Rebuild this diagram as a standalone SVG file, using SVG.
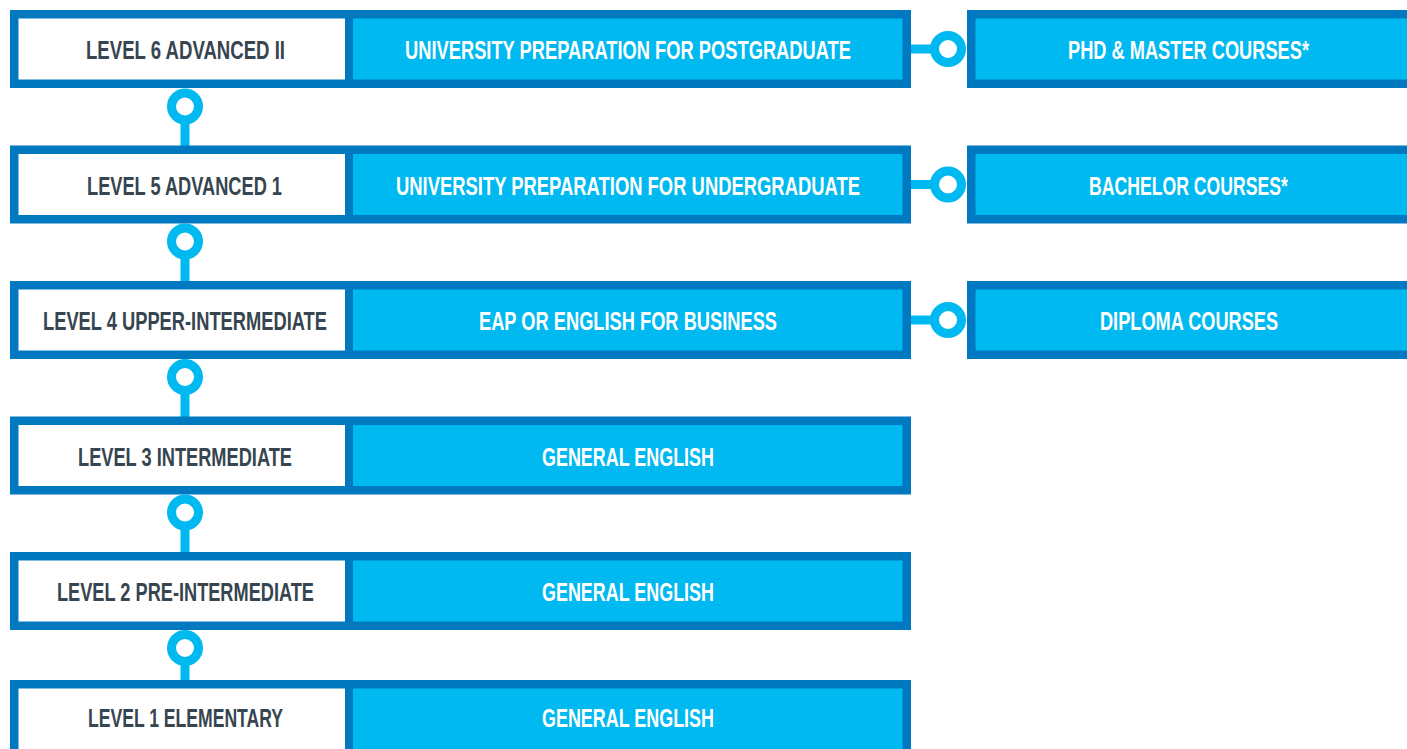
<svg xmlns="http://www.w3.org/2000/svg" width="1407" height="749" viewBox="0 0 1407 749">
<style>
.frame{fill:#0079C1}
.white{fill:#FFFFFF}
.cyan{fill:#00B9F0}
.t{font-family:"Liberation Sans",Arial,sans-serif;font-weight:bold;font-size:25.5px;text-anchor:middle}
.dark{fill:#36454F}
.light{fill:#FFFFFF}
.stem{stroke:#00B9F0;stroke-width:9;fill:none}
.ring{stroke:#00B9F0;stroke-width:9;fill:#FFFFFF}
</style>
<rect width="1407" height="749" fill="#FFFFFF"/>
<g id="connectors">
  <line class="stem" x1="185" y1="107" x2="185" y2="148"/>
  <circle class="ring" cx="185" cy="106.5" r="13.5"/>
  <line class="stem" x1="185" y1="242" x2="185" y2="283"/>
  <circle class="ring" cx="185" cy="241.5" r="13.5"/>
  <line class="stem" x1="185" y1="377" x2="185" y2="419"/>
  <circle class="ring" cx="185" cy="377" r="13.5"/>
  <line class="stem" x1="185" y1="513" x2="185" y2="554"/>
  <circle class="ring" cx="185" cy="512.5" r="13.5"/>
  <line class="stem" x1="185" y1="648" x2="185" y2="682"/>
  <circle class="ring" cx="185" cy="648" r="13.5"/>
  <line class="stem" x1="909" y1="49" x2="935" y2="49"/>
  <circle class="ring" cx="948" cy="49" r="13.5"/>
  <line class="stem" x1="909" y1="184.5" x2="935" y2="184.5"/>
  <circle class="ring" cx="948" cy="184.5" r="13.5"/>
  <line class="stem" x1="909" y1="320" x2="935" y2="320"/>
  <circle class="ring" cx="948" cy="320" r="13.5"/>
</g>
<g id="row6">
  <rect class="frame" x="10" y="10" width="901" height="78"/>
  <g id="level6"><rect class="white" x="18.5" y="18.5" width="326.5" height="61"/>
  <text class="t dark" x="185.5" y="59" textLength="199" lengthAdjust="spacingAndGlyphs">LEVEL 6 ADVANCED II</text></g>
  <g id="prep6"><rect class="cyan" x="353" y="18.5" width="549.5" height="61"/>
  <text class="t light" x="628" y="59" textLength="446" lengthAdjust="spacingAndGlyphs">UNIVERSITY PREPARATION FOR POSTGRADUATE</text></g>
</g>
<g id="row5">
  <rect class="frame" x="10" y="145.5" width="901" height="78"/>
  <g id="level5"><rect class="white" x="18.5" y="154" width="326.5" height="61"/>
  <text class="t dark" x="184.5" y="194.5" textLength="195" lengthAdjust="spacingAndGlyphs">LEVEL 5 ADVANCED 1</text></g>
  <g id="prep5"><rect class="cyan" x="353" y="154" width="549.5" height="61"/>
  <text class="t light" x="628" y="194.5" textLength="464" lengthAdjust="spacingAndGlyphs">UNIVERSITY PREPARATION FOR UNDERGRADUATE</text></g>
</g>
<g id="row4">
  <rect class="frame" x="10" y="281" width="901" height="78"/>
  <g id="level4"><rect class="white" x="18.5" y="289.5" width="326.5" height="61"/>
  <text class="t dark" x="185" y="330" textLength="284" lengthAdjust="spacingAndGlyphs">LEVEL 4 UPPER-INTERMEDIATE</text></g>
  <g id="prep4"><rect class="cyan" x="353" y="289.5" width="549.5" height="61"/>
  <text class="t light" x="628" y="330" textLength="298" lengthAdjust="spacingAndGlyphs">EAP OR ENGLISH FOR BUSINESS</text></g>
</g>
<g id="row3">
  <rect class="frame" x="10" y="416.5" width="901" height="78"/>
  <g id="level3"><rect class="white" x="18.5" y="425" width="326.5" height="61"/>
  <text class="t dark" x="185" y="465.5" textLength="214" lengthAdjust="spacingAndGlyphs">LEVEL 3 INTERMEDIATE</text></g>
  <g id="prep3"><rect class="cyan" x="353" y="425" width="549.5" height="61"/>
  <text class="t light" x="628" y="465.5" textLength="172" lengthAdjust="spacingAndGlyphs">GENERAL ENGLISH</text></g>
</g>
<g id="row2">
  <rect class="frame" x="10" y="552" width="901" height="78"/>
  <g id="level2"><rect class="white" x="18.5" y="560.5" width="326.5" height="61"/>
  <text class="t dark" x="185.5" y="601" textLength="257" lengthAdjust="spacingAndGlyphs">LEVEL 2 PRE-INTERMEDIATE</text></g>
  <g id="prep2"><rect class="cyan" x="353" y="560.5" width="549.5" height="61"/>
  <text class="t light" x="628" y="601" textLength="172" lengthAdjust="spacingAndGlyphs">GENERAL ENGLISH</text></g>
</g>
<g id="row1">
  <rect class="frame" x="10" y="680" width="901" height="78"/>
  <g id="level1"><rect class="white" x="18.5" y="688.5" width="326.5" height="61"/>
  <text class="t dark" x="185.5" y="727" textLength="195" lengthAdjust="spacingAndGlyphs">LEVEL 1 ELEMENTARY</text></g>
  <g id="prep1"><rect class="cyan" x="353" y="688.5" width="549.5" height="61"/>
  <text class="t light" x="628" y="727" textLength="172" lengthAdjust="spacingAndGlyphs">GENERAL ENGLISH</text></g>
</g>
<g id="phd-master">
  <rect class="frame" x="967" y="10" width="450" height="78"/>
  <rect class="cyan" x="975.5" y="18.5" width="440" height="61"/>
  <text class="t light" x="1188.5" y="59" textLength="241" lengthAdjust="spacingAndGlyphs">PHD &amp; MASTER COURSES*</text>
</g>
<g id="bachelor">
  <rect class="frame" x="967" y="145.5" width="450" height="78"/>
  <rect class="cyan" x="975.5" y="154" width="440" height="61"/>
  <text class="t light" x="1188.5" y="194.5" textLength="199" lengthAdjust="spacingAndGlyphs">BACHELOR COURSES*</text>
</g>
<g id="diploma">
  <rect class="frame" x="967" y="281" width="450" height="78"/>
  <rect class="cyan" x="975.5" y="289.5" width="440" height="61"/>
  <text class="t light" x="1189" y="330" textLength="178" lengthAdjust="spacingAndGlyphs">DIPLOMA COURSES</text>
</g>
</svg>
